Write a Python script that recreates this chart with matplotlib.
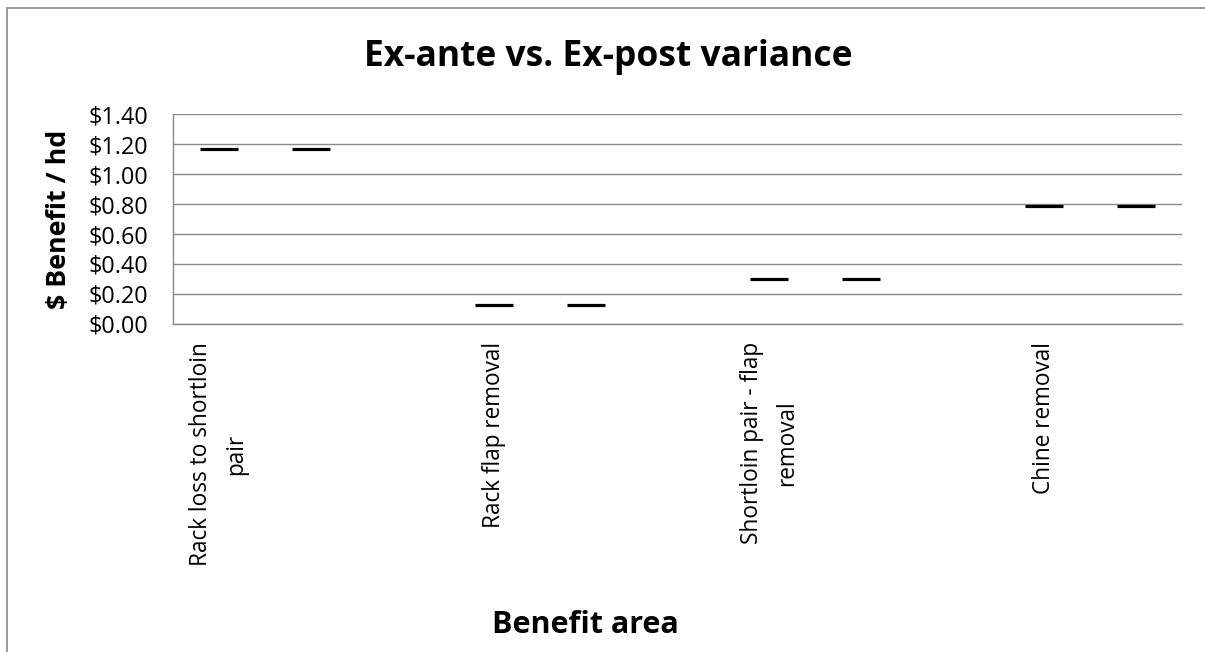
import matplotlib.pyplot as plt
import numpy as np
from matplotlib.patches import Rectangle
from matplotlib.ticker import FuncFormatter

benefit_areas = [
    "Rack loss to shortloin\npair",
    "Rack flap removal",
    "Shortloin pair - flap\nremoval",
    "Chine removal",
]
ex_ante = [1.17, 0.13, 0.30, 0.79]
ex_post = [1.17, 0.13, 0.30, 0.79]
y_ticks = [0.0, 0.2, 0.4, 0.6, 0.8, 1.0, 1.2, 1.4]

plt.rcParams["font.family"] = ["Open Sans", "DejaVu Sans"]
GRID = "#898989"

# Excel category axis: 11 slots, each area takes 3 (ex-ante, ex-post, gap)
n_slots = 3 * len(benefit_areas) - 1
ante_pos = np.arange(len(benefit_areas)) * 3
post_pos = ante_pos + 1

figure = plt.figure(figsize=(12.05, 6.52), dpi=100)
axis = figure.add_axes([173 / 1205, 1 - 324 / 652, 1009 / 1205, 210 / 652])

marker_style = dict(linestyle="none", marker="_", markersize=27, markeredgewidth=2.3, color="black")
axis.plot(ante_pos, ex_ante, **marker_style)
axis.plot(post_pos, ex_post, **marker_style)

axis.set_xlim(-0.5, n_slots - 0.5)
axis.set_ylim(0, 1.4)
axis.set_yticks(y_ticks)
axis.yaxis.set_major_formatter(FuncFormatter(lambda v, _: f"${v:.2f}"))
axis.set_xticks(ante_pos)
axis.set_xticklabels(benefit_areas, rotation=90, ha="center", va="top",
                     multialignment="center", linespacing=1.62)
axis.tick_params(axis="x", length=0, pad=13, labelsize=16.3)
axis.tick_params(axis="y", length=0, pad=18, labelsize=16.8)

axis.grid(axis="y", color=GRID, linewidth=1.0)
axis.set_axisbelow(True)
for side in ["top", "right"]:
    axis.spines[side].set_visible(False)
for side in ["left", "bottom"]:
    axis.spines[side].set_color(GRID)
    axis.spines[side].set_linewidth(1.0)

figure.text(608 / 1205, 1 - 57 / 652, "Ex-ante vs. Ex-post variance", ha="center", va="center",
            fontsize=25.5, fontweight="bold")
figure.text(585 / 1205, 1 - 625 / 652, "Benefit area", ha="center", va="center",
            fontsize=22, fontweight="bold")
figure.text(59 / 1205, 1 - 219 / 652, "$ Benefit / hd", ha="center", va="center",
            rotation=90, fontsize=19.3, fontweight="bold")

figure.patches.append(Rectangle((7 / 1205, -0.1), 1.2, 1.1 - 8 / 652, transform=figure.transFigure,
                                fill=False, edgecolor=GRID, linewidth=1.2))

figure.savefig("out.png", dpi=100)
plt.close(figure)
